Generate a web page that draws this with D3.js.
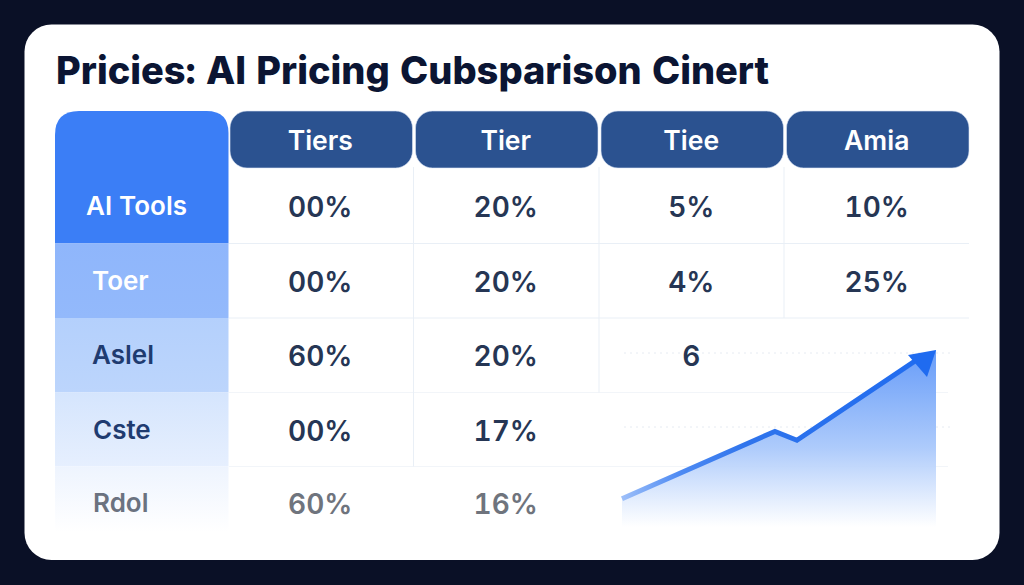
<!DOCTYPE html>
<html>
<head>
<meta charset="utf-8">
<title>Pricies: AI Pricing Cubsparison Cinert</title>
<script src="https://d3js.org/d3.v7.min.js"></script>
<style>
  html, body { margin: 0; padding: 0; background: #0a1026; }
  svg { display: block; }
  text { font-family: Inter, "Noto Sans", sans-serif; font-variant-numeric: tabular-nums; }
</style>
</head>
<body>
<div id="chart"></div>
<script>
var chartTitle = "Pricies: AI Pricing Cubsparison Cinert";
var headers = ["Tiers", "Tier", "Tiee", "Amia"];
var rowLabels = ["AI Tools", "Toer", "Aslel", "Cste", "Rdol"];
var col1 = ["00%", "00%", "60%", "00%", "60%"];
var col2 = ["20%", "20%", "20%", "17%", "16%"];
var col3 = ["5%", "4%", "6", "", ""];
var col4 = ["10%", "25%", "", "", ""];

// trend arrow, both axes read as 0-100 of the little plot
var trendX = [0, 48.7, 55.7, 100];
var trendY = [16, 54, 49, 100];

var width = 1024, height = 585;

var svg = d3.select("#chart").append("svg")
    .attr("width", width)
    .attr("height", height);

var defs = svg.append("defs");

function vGradient(id, stops) {
    var g = defs.append("linearGradient").attr("id", id)
        .attr("x1", 0).attr("y1", 0).attr("x2", 0).attr("y2", 1);
    stops.forEach(function(s) {
        g.append("stop").attr("offset", s[0]).attr("stop-color", s[1]).attr("stop-opacity", s[2]);
    });
}

vGradient("rowFill0", [[0, "#3b7ef6", 1], [1, "#3b7ef6", 1]]);
vGradient("rowFill1", [[0, "#8fb6fb", 1], [1, "#93b9fb", 1]]);
vGradient("rowFill2", [[0, "#b4d0fc", 1], [1, "#bcd5fc", 1]]);
vGradient("rowFill3", [[0, "#d5e5fd", 1], [1, "#e6effe", 1]]);
vGradient("rowFill4", [[0, "#eef4fe", 1], [1, "#ffffff", 1]]);
vGradient("areaFill", [[0, "#5f97f8", 0.95], [0.55, "#a9c8fb", 0.95], [1, "#ffffff", 0.9]]);

var lineGrad = defs.append("linearGradient").attr("id", "lineFill")
    .attr("gradientUnits", "userSpaceOnUse")
    .attr("x1", 622).attr("y1", 0).attr("x2", 936).attr("y2", 0);
lineGrad.append("stop").attr("offset", 0).attr("stop-color", "#9dbff9");
lineGrad.append("stop").attr("offset", 0.18).attr("stop-color", "#4f8bf3");
lineGrad.append("stop").attr("offset", 0.4).attr("stop-color", "#2f74ec");
lineGrad.append("stop").attr("offset", 1).attr("stop-color", "#1f6bf0");

// card
svg.append("rect")
    .attr("x", 24.5).attr("y", 24.5)
    .attr("width", 975).attr("height", 535.5)
    .attr("rx", 27).attr("fill", "#ffffff");

svg.append("text")
    .attr("x", 56).attr("y", 84)
    .attr("font-size", 38).attr("font-weight", 800)
    .attr("fill", "#0b1533")
    .text(chartTitle);

// table layout
var x = d3.scaleBand()
    .domain(headers)
    .range([228.5, 970.5]);
var rowEdges = [167, 243.5, 318, 392.5, 466.5, 541];
var rowTop = function(i) { return i === 0 ? 111 : rowEdges[i]; };
var rowMid = [206, 281, 355, 430, 503];

// grid lines
var grid = svg.append("g").attr("stroke", "#e9eff6").attr("stroke-width", 1);
[243.5, 318].forEach(function(y) {
    grid.append("line").attr("x1", 229).attr("x2", 969).attr("y1", y).attr("y2", y);
});
[392.5, 466.5].forEach(function(y) {
    grid.append("line").attr("x1", 229).attr("x2", 948).attr("y1", y).attr("y2", y).attr("stroke", "#f2f5f9");
});
[[413.5, 466.5], [599, 392.5], [784, 318]].forEach(function(d) {
    grid.append("line").attr("x1", d[0]).attr("x2", d[0]).attr("y1", 167).attr("y2", d[1]);
});

// faint dotted guides behind the trend
[353, 427].forEach(function(y) {
    svg.append("line")
        .attr("x1", 624).attr("x2", 950).attr("y1", y).attr("y2", y)
        .attr("stroke", "#e6ebf2").attr("stroke-dasharray", "2 4");
});

// left column
var leftPath = function(i) {
    var x0 = 55, x1 = 228.5, y0 = rowTop(i), y1 = i === 4 ? 532 : rowEdges[i + 1];
    if (i === 0) {
        return "M" + x0 + "," + y1 + "V" + (y0 + 24) + "Q" + x0 + "," + y0 + " " + (x0 + 24) + "," + y0 +
            "H" + (x1 - 22) + "Q" + x1 + "," + y0 + " " + x1 + "," + (y0 + 22) + "V" + y1 + "Z";
    }
    return "M" + x0 + "," + y0 + "H" + x1 + "V" + y1 + "H" + x0 + "Z";
};
svg.selectAll("path.rowbg").data(rowLabels).enter().append("path")
    .attr("class", "rowbg")
    .attr("d", function(d, i) { return leftPath(i); })
    .attr("fill", function(d, i) { return "url(#rowFill" + i + ")"; });

var labelX = [86, 92, 92, 93, 93];
var labelFill = ["#ffffff", "#ffffff", "#1f3b70", "#1f3b70", "#6b7280"];
svg.selectAll("text.rowlabel").data(rowLabels).enter().append("text")
    .attr("class", "rowlabel")
    .attr("x", function(d, i) { return labelX[i]; })
    .attr("y", function(d, i) { return rowMid[i]; })
    .attr("dy", "0.36em")
    .attr("font-size", 26).attr("font-weight", 600)
    .attr("fill", function(d, i) { return labelFill[i]; })
    .text(function(d) { return d; });

// header pills
var pills = svg.selectAll("g.head").data(headers).enter().append("g").attr("class", "head");
pills.append("rect")
    .attr("x", function(d) { return x(d) + 1.5; })
    .attr("y", 111)
    .attr("width", x.bandwidth() - 3)
    .attr("height", 57)
    .attr("rx", 17)
    .attr("fill", "#2b5290")
    .attr("stroke", "#dbe6f6").attr("stroke-width", 0.6);
pills.append("text")
    .attr("x", function(d) { return x(d) + x.bandwidth() / 2 - 1; })
    .attr("y", 140)
    .attr("dy", "0.36em")
    .attr("text-anchor", "middle")
    .attr("font-size", 26.5).attr("font-weight", 600)
    .attr("fill", "#ffffff")
    .text(function(d) { return d; });

// cells
[col1, col2, col3, col4].forEach(function(col, c) {
    svg.selectAll("text.c" + c).data(col).enter().append("text")
        .attr("class", "c" + c)
        .attr("x", x(headers[c]) + x.bandwidth() / 2 - 1)
        .attr("y", function(d, i) { return rowMid[i] + 1; })
        .attr("dy", "0.36em")
        .attr("text-anchor", "middle")
        .attr("font-size", 28).attr("font-weight", 600)
        .attr("fill", function(d, i) { return i === 4 ? "#6f747d" : "#263654"; })
        .text(function(d) { return d; });
});

// trend
var tx = d3.scaleLinear().domain([0, 100]).range([622, 936]);
var ty = d3.scaleLinear().domain([0, 100]).range([527, 350]);
var pts = trendX.map(function(d, i) { return [d, trendY[i]]; });

var area = d3.area()
    .x(function(d) { return tx(d[0]); })
    .y0(ty(0))
    .y1(function(d) { return ty(d[1]); });
svg.append("path").datum(pts).attr("d", area).attr("fill", "url(#areaFill)");

var line = d3.line()
    .x(function(d) { return tx(d[0]); })
    .y(function(d) { return ty(d[1]); });
// stop the shaft inside the arrow head
var shaft = pts.slice(0, 3).concat([[96, 97]]);
svg.append("path").datum(shaft).attr("d", line)
    .attr("fill", "none")
    .attr("stroke", "url(#lineFill)")
    .attr("stroke-width", 5);

var tip = [tx(100), ty(100)];
svg.append("path")
    .attr("d", "M" + tip[0] + "," + tip[1] +
        "L" + (tip[0] - 28) + "," + (tip[1] + 5) +
        "L" + (tip[0] - 9) + "," + (tip[1] + 27) + "Z")
    .attr("fill", "#1f6bf0");
</script>
</body>
</html>
